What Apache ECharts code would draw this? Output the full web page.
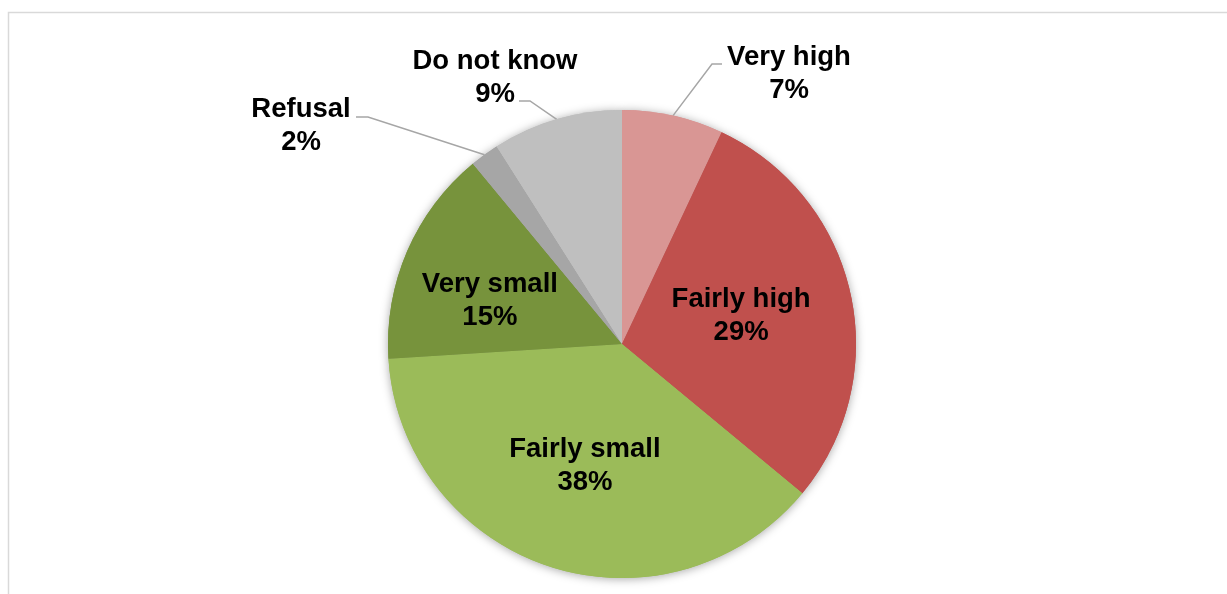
<!DOCTYPE html>
<html>
<head>
<meta charset="utf-8">
<script src="https://cdn.jsdelivr.net/npm/echarts@6/dist/echarts.min.js"></script>
<style>
html,body{margin:0;padding:0;background:#fff;}
#main{width:1227px;height:594px;}
</style>
</head>
<body>
<div id="main"></div>
<script>
var categories = ['Very high', 'Fairly high', 'Fairly small', 'Very small', 'Refusal', 'Do not know'];
var values = [7, 29, 38, 15, 2, 9];
var colors = ['#D99694', '#C0504D', '#9BBB59', '#77933C', '#A6A6A6', '#BFBFBF'];

var chart = echarts.init(document.getElementById('main'));

function buildData() {
  return categories.map(function (c, i) {
    return { name: c, value: values[i], itemStyle: { color: colors[i] } };
  });
}

// label placement tweaks (label positions only)
var outsideLabels = {
  'Very high':   { x: 789, y: 74, bend: [712, 64], end: [722, 64] },
  'Do not know': { x: 495, y: 78, bend: [530, 101], end: [519, 101] },
  'Refusal':     { x: 301, y: 126, bend: [368, 117], end: [356, 117] }
};
var insideShift = {
  'Fairly high':  [2, -2],
  'Fairly small': [0, 8],
  'Very small':   [-22, 5]
};

var option = {
  animation: false,
  graphic: [{
    type: 'rect',
    shape: { x: 8.5, y: 12.5, width: 1300, height: 700 },
    style: { fill: 'none', stroke: '#D9D9D9', lineWidth: 1.5 },
    silent: true
  }],
  series: [
    {
      type: 'pie',
      silent: true,
      center: [622, 344],
      radius: [0, 234],
      startAngle: 90,
      z: 1,
      label: { show: false },
      labelLine: { show: false },
      itemStyle: { shadowBlur: 10, shadowColor: 'rgba(0,0,0,0.35)', shadowOffsetX: 0, shadowOffsetY: 1 },
      data: buildData()
    },
    {
      type: 'pie',
      center: [622, 344],
      radius: [0, 234],
      startAngle: 90,
      z: 2,
      data: buildData().map(function (d) {
        var isOut = !!outsideLabels[d.name];
        d.label = { position: isOut ? 'outside' : 'inside' };
        d.labelLine = { show: isOut };
        return d;
      }),
      label: {
        show: true,
        formatter: '{b}\n{d}%',
        fontFamily: 'Liberation Sans, Arial, sans-serif',
        fontWeight: 'bold',
        fontSize: 27.5,
        lineHeight: 33,
        color: '#000',
        align: 'center'
      },
      labelLine: {
        show: true,
        length: 20,
        length2: 10,
        smooth: false,
        lineStyle: { color: '#A6A6A6', width: 1.5 }
      },
      labelLayout: function (params) {
        var name = categories[params.dataIndex];
        var o = outsideLabels[name];
        if (o) {
          var start = (params.labelLinePoints && params.labelLinePoints[0]) || o.bend;
          return {
            x: o.x,
            y: o.y,
            align: 'center',
            verticalAlign: 'middle',
            labelLinePoints: [[start[0], start[1]], o.bend, o.end]
          };
        }
        var s = insideShift[name] || [0, 0];
        return { dx: s[0], dy: s[1] };
      },
      itemStyle: { borderWidth: 0 },
      emphasis: { disabled: true }
    }
  ]
};
chart.setOption(option);
</script>
</body>
</html>
